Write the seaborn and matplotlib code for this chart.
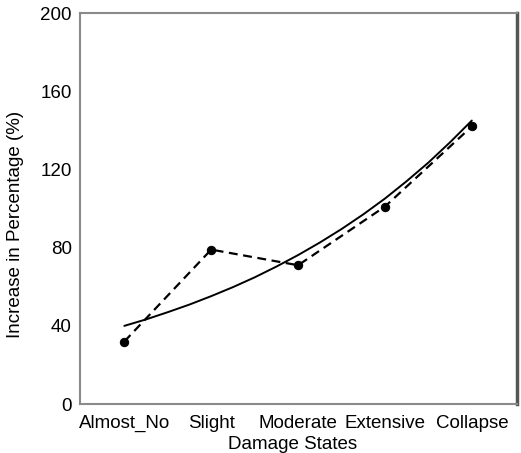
import matplotlib
matplotlib.use("Agg")
import matplotlib.pyplot as plt
import seaborn as sns

# Damage states and observed increase (%)
damage_states = ["Almost_No", "Slight", "Moderate", "Extensive", "Collapse"]
observed = [32, 79, 71, 101, 142]

# Fitted trend curve, sampled along the damage-state axis
trend_pos = [0, 0.25, 0.5, 0.75, 1, 1.25, 1.5, 1.75, 2, 2.25, 2.5, 2.75, 3, 3.25, 3.5, 3.75, 4]
trend_val = [40, 43.3, 47.0, 50.9, 55.2, 59.8, 64.8, 70.3, 76.2, 82.6, 89.5, 97.0,
             105.1, 114.0, 123.5, 133.9, 145]

y_ticks = [0, 40, 80, 120, 160, 200]

sns.set_style("white")
plt.rcParams["font.family"] = ["Liberation Sans", "DejaVu Sans"]
plt.rcParams["text.color"] = "black"
plt.rcParams["axes.labelcolor"] = "black"

fig = plt.figure(figsize=(5.21, 4.53), dpi=100)
ax = fig.add_axes([0.1536, 0.108, 0.8387, 0.8633])

sns.lineplot(x=trend_pos, y=trend_val, ax=ax, color="black", linewidth=1.4)
sns.lineplot(x=list(range(len(damage_states))), y=observed, ax=ax, color="black",
             linewidth=1.6, linestyle=(0, (4, 2.5)), marker="o", markersize=6,
             markeredgecolor="black")

ax.set_xlim(-0.51, 4.52)
ax.set_ylim(0, 200)
ax.set_yticks(y_ticks)
ax.set_xticks(range(len(damage_states)))
ax.set_xticklabels(damage_states)

ax.tick_params(axis="both", direction="in", length=5, width=1, color="#888888",
               labelsize=13.5, labelcolor="black")
ax.tick_params(axis="x", pad=8)
ax.tick_params(axis="y", pad=6)

for side in ["left", "bottom", "top"]:
    ax.spines[side].set_color("#8a8a8a")
    ax.spines[side].set_linewidth(1.5)
ax.spines["right"].set_color("#555555")
ax.spines["right"].set_linewidth(2.5)

ax.set_xlabel("Damage States", fontsize=13.5, color="black")
ax.set_ylabel("Increase in Percentage (%)", fontsize=13.5, color="black")
ax.xaxis.set_label_coords(0.487, -0.082)
ax.yaxis.set_label_coords(-0.128, 0.459)

fig.savefig("out.png", dpi=100)
